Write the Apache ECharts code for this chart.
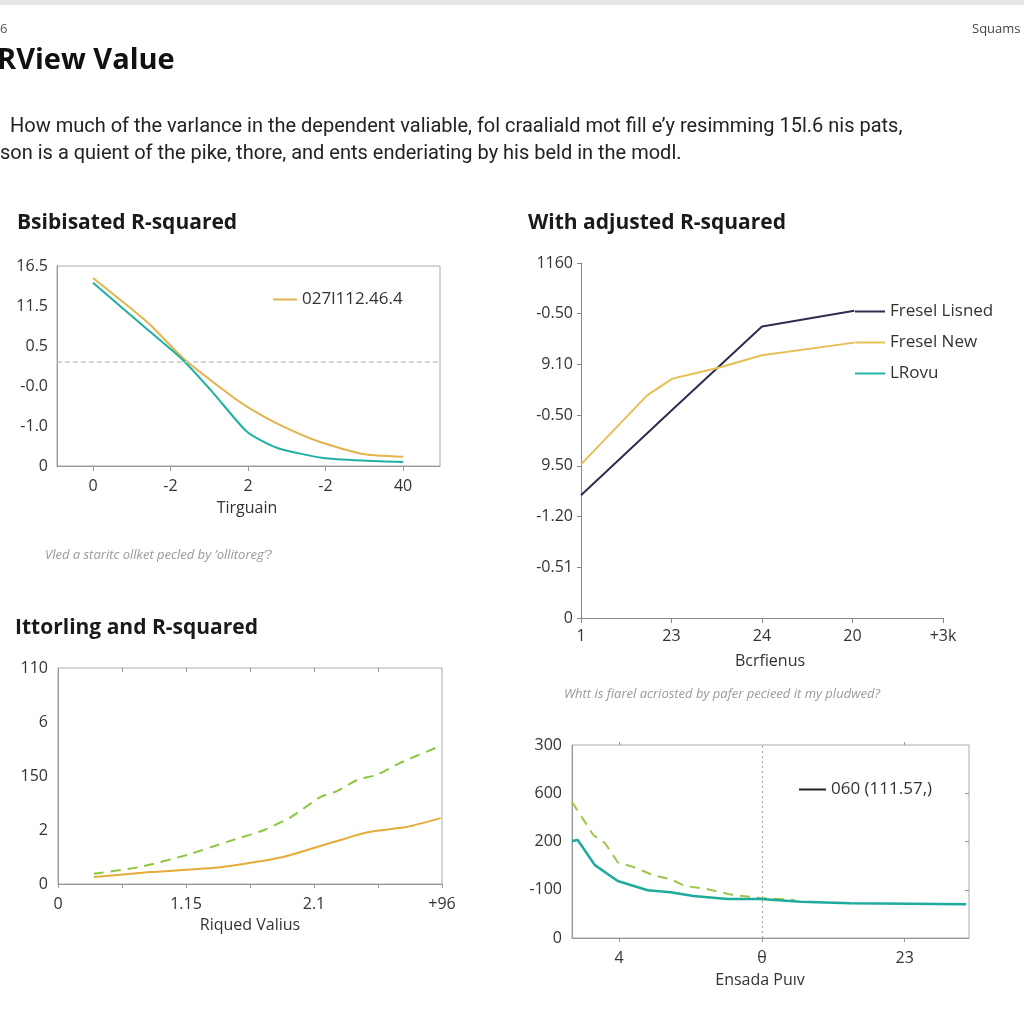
<!DOCTYPE html>
<html>
<head>
<meta charset="utf-8">
<script src="https://cdn.jsdelivr.net/npm/echarts@6/dist/echarts.min.js"></script>
<style>html,body{margin:0;padding:0;background:#fff}#c{width:1024px;height:1024px}</style>
</head>
<body>
<div id="c"></div>
<script>
// ---- Panel 1: Bsibisated R-squared ----
var p1XLabels = ['0', '-2', '2', '-2', '40'];
var p1YLabels = ['0', '-1.0', '-0.0', '0.5', '11.5', '16.5'];
var p1Gold = [[0,4.7],[0.71,3.58],[1.16,2.7],[1.73,1.83],[1.99,1.48],[2.41,1.03],[2.93,0.6],[3.48,0.3],[4.0,0.23]];
var p1Teal = [[0,4.58],[0.71,3.4],[1.16,2.65],[1.55,1.83],[1.99,0.85],[2.38,0.45],[2.97,0.2],[3.54,0.13],[4.0,0.1]];
var p1RefLine = 2.6;
// ---- Panel 2: With adjusted R-squared ----
var p2XLabels = ['1', '23', '24', '20', '+3k'];
var p2YLabels = ['0', '-0.51', '-1.20', '9.50', '-0.50', '9.10', '-0.50', '1160'];
var p2Navy = [[0,2.42],[1.0,4.09],[2.0,5.75],[3.02,6.06]];
var p2Gold = [[0,3.03],[0.73,4.39],[1.01,4.72],[1.53,4.94],[2.0,5.18],[3.02,5.43]];
// ---- Panel 3: Ittorling and R-squared ----
var p3XLabels = ['0', '1.15', '2.1', '+96'];
var p3YLabels = ['0', '2', '150', '6', '110'];
var p3Green = [[0.28,0.19],[0.65,0.32],[1.01,0.54],[1.32,0.78],[1.61,1.0],[1.82,1.24],[2.05,1.61],[2.18,1.72],[2.34,1.93],[2.49,2.02],[2.67,2.24],[2.99,2.56]];
var p3Gold = [[0.28,0.13],[0.72,0.22],[1.27,0.31],[1.76,0.5],[2.03,0.69],[2.42,0.96],[2.73,1.06],[2.99,1.22]];
// ---- Panel 4 ----
var p4XLabels = ['4', '\u03b8', '23'];
var p4YLabels = ['0', '-100', '200', '600', '300'];
var p4Green = [[-0.33,2.82],[-0.18,2.13],[-0.1,1.97],[-0.01,1.57],[0.1,1.47],[0.24,1.3],[0.36,1.22],[0.46,1.08],[0.62,1.01],[0.8,0.89],[0.99,0.83],[1.23,0.79]];
var p4Teal = [[-0.33,2.01],[-0.29,2.03],[-0.17,1.51],[-0.01,1.18],[0.2,0.99],[0.36,0.95],[0.52,0.87],[0.76,0.81],[0.99,0.81],[1.27,0.75],[1.62,0.72],[2.43,0.7]];
var p4RefX = 1;

var FONT = 'Open Sans';
var LBL = {fontFamily: FONT, fontSize: 16, color: '#333'};
function idxFmt(arr){ return function(v){ var i = Math.round(v); return arr[i] !== undefined ? arr[i] : ''; }; }
function seq(a,b,s){ var r=[]; for(var v=a; v<=b+1e-9; v+=s) r.push(+v.toFixed(4)); return r; }
var TITLE_STYLE = {fontFamily: FONT, fontSize: 21, fontWeight: 'bold', color: '#1a1a1a'};
var LEG_TEXT = {fontFamily: FONT, fontSize: 17, color: '#333'};

var chart = echarts.init(document.getElementById('c'));
var option = {
  backgroundColor: '#fff',
  animation: false,
  textStyle: {fontFamily: FONT},
  title: [
    {text: 'Bsibisated R-squared', left: 17, top: 213, padding: 0, textStyle: TITLE_STYLE},
    {text: 'With adjusted R-squared', left: 528, top: 213, padding: 0, textStyle: TITLE_STYLE},
    {text: 'Ittorling and R-squared', left: 15, top: 618, padding: 0, textStyle: TITLE_STYLE}
  ],
  grid: [
    {left: 57, top: 266, width: 383, height: 200, show: true, borderColor: '#aaa', borderWidth: 1},
    {left: 581, top: 263, width: 362, height: 355},
    {left: 58, top: 668, width: 384, height: 216, show: true, borderColor: '#aaa', borderWidth: 1},
    {left: 572, top: 745, width: 397, height: 193, show: true, borderColor: '#aaa', borderWidth: 1}
  ],
  xAxis: [
    {gridIndex: 0, type: 'value', min: -0.4645, max: 4.477,
     axisLine: {onZero: false, lineStyle: {color: '#999'}}, splitLine: {show: false},
     axisTick: {customValues: [0,1,2,3,4], length: 5, lineStyle: {color: '#999'}},
     axisLabel: Object.assign({customValues: [0,1,2,3,4], formatter: idxFmt(p1XLabels), margin: 12}, LBL)},
    {gridIndex: 1, type: 'value', min: 0, max: 4, interval: 1,
     axisLine: {onZero: false, lineStyle: {color: '#888'}}, splitLine: {show: false},
     axisTick: {length: 5, lineStyle: {color: '#888'}},
     axisLabel: Object.assign({formatter: idxFmt(p2XLabels), margin: 10, showMaxLabel: true}, LBL)},
    {gridIndex: 2, type: 'value', min: 0, max: 3,
     axisLine: {onZero: false, lineStyle: {color: '#999'}}, splitLine: {show: false},
     axisTick: {customValues: seq(0,3,0.5), length: 4, lineStyle: {color: '#999'}},
     axisLabel: Object.assign({customValues: [0,1,2,3], formatter: idxFmt(p3XLabels), margin: 12}, LBL)},
    {gridIndex: 3, type: 'value', min: -0.33, max: 2.45,
     axisLine: {onZero: false, lineStyle: {color: '#999'}}, splitLine: {show: false},
     axisTick: {customValues: [0,1,2], length: 4, lineStyle: {color: '#999'}},
     axisLabel: Object.assign({customValues: [0,1,2], formatter: idxFmt(p4XLabels), margin: 12}, LBL)},
    {gridIndex: 2, type: 'value', position: 'top', min: 0, max: 3,
     axisLine: {show: false, onZero: false}, splitLine: {show: false}, axisLabel: {show: false},
     axisTick: {inside: true, customValues: seq(0.5,2.5,0.5), length: 4, lineStyle: {color: '#999'}}},
    {gridIndex: 3, type: 'value', position: 'top', min: -0.33, max: 2.45,
     axisLine: {show: false, onZero: false}, splitLine: {show: false}, axisLabel: {show: false},
     axisTick: {customValues: [0,2], length: 3, lineStyle: {color: '#999'}}}
  ],
  yAxis: [
    {gridIndex: 0, type: 'value', min: 0, max: 5, interval: 1,
     axisLine: {show: true, onZero: false, lineStyle: {color: '#999'}}, axisTick: {show: false}, splitLine: {show: false},
     axisLabel: Object.assign({formatter: idxFmt(p1YLabels), margin: 9}, LBL)},
    {gridIndex: 1, type: 'value', min: 0, max: 7, interval: 1,
     axisLine: {show: true, onZero: false, lineStyle: {color: '#888'}}, axisTick: {show: true, length: 4, lineStyle: {color: '#888'}}, splitLine: {show: false},
     axisLabel: Object.assign({formatter: idxFmt(p2YLabels), margin: 8}, LBL)},
    {gridIndex: 2, type: 'value', min: 0, max: 4, interval: 1,
     axisLine: {show: true, onZero: false, lineStyle: {color: '#999'}}, axisTick: {show: false}, splitLine: {show: false},
     axisLabel: Object.assign({formatter: idxFmt(p3YLabels), margin: 10}, LBL)},
    {gridIndex: 3, type: 'value', min: 0, max: 4, interval: 1,
     axisLine: {show: true, onZero: false, lineStyle: {color: '#999'}}, axisTick: {show: false}, splitLine: {show: false},
     axisLabel: Object.assign({formatter: idxFmt(p4YLabels), margin: 10}, LBL)},
    {gridIndex: 3, type: 'value', position: 'right', min: 0, max: 4, interval: 1,
     axisLine: {show: false, onZero: false}, splitLine: {show: false}, axisLabel: {show: false},
     axisTick: {inside: true, customValues: [1,2,3], length: 4, lineStyle: {color: '#999'}}}
  ],
  legend: [
    {data: ['027l112.46.4'], left: 273, top: 291, padding: 0, icon: 'rect', itemWidth: 24, itemHeight: 2, itemGap: 8,
     textStyle: LEG_TEXT},
    {data: ['Fresel Lisned', 'Fresel New', 'LRovu'], orient: 'vertical', left: 855, top: 303, padding: 0, icon: 'rect',
     itemWidth: 30, itemHeight: 2, itemGap: 14, textStyle: LEG_TEXT},
    {data: ['060 (111.57,)'], left: 799, top: 781, padding: 0, icon: 'rect', itemWidth: 27, itemHeight: 2,
     textStyle: LEG_TEXT}
  ],
  series: [
    {name: '027l112.46.4', type: 'line', xAxisIndex: 0, yAxisIndex: 0, data: p1Gold, symbol: 'none', smooth: 0.2,
     lineStyle: {width: 2, color: '#e2b44c'}, itemStyle: {color: '#e2b44c'},
     markLine: {silent: true, symbol: 'none', label: {show: false}, lineStyle: {color: '#c8c8c8', type: [5, 3], width: 1.5},
                data: [{yAxis: p1RefLine}]}},
    {name: 'p1teal', type: 'line', xAxisIndex: 0, yAxisIndex: 0, data: p1Teal, symbol: 'none', smooth: 0.2,
     lineStyle: {width: 2, color: '#1fb0a2'}, itemStyle: {color: '#1fb0a2'}},
    {name: 'Fresel Lisned', type: 'line', xAxisIndex: 1, yAxisIndex: 1, data: p2Navy, symbol: 'none',
     lineStyle: {width: 2, color: '#2c2d4f'}, itemStyle: {color: '#2c2d4f'}},
    {name: 'Fresel New', type: 'line', xAxisIndex: 1, yAxisIndex: 1, data: p2Gold, symbol: 'none',
     lineStyle: {width: 2, color: '#e6bf55'}, itemStyle: {color: '#e6bf55'}},
    {name: 'LRovu', type: 'line', xAxisIndex: 1, yAxisIndex: 1, data: [], symbol: 'none',
     lineStyle: {width: 2, color: '#22b3a6'}, itemStyle: {color: '#22b3a6'}},
    {name: 'p3green', type: 'line', xAxisIndex: 2, yAxisIndex: 2, data: p3Green, symbol: 'none', smooth: 0.2,
     lineStyle: {width: 2, color: '#8cc63f', type: [10, 7]}, itemStyle: {color: '#8cc63f'}},
    {name: 'p3gold', type: 'line', xAxisIndex: 2, yAxisIndex: 2, data: p3Gold, symbol: 'none', smooth: 0.2,
     lineStyle: {width: 2, color: '#e5ac3a'}, itemStyle: {color: '#e5ac3a'}},
    {name: 'p4green', type: 'line', xAxisIndex: 3, yAxisIndex: 3, data: p4Green, symbol: 'none',
     lineStyle: {width: 2, color: '#9ec64a', type: [10, 7]}, itemStyle: {color: '#9ec64a'},
     markLine: {silent: true, symbol: 'none', label: {show: false}, lineStyle: {color: '#aaa', type: [2, 3], width: 1.2},
                data: [{xAxis: p4RefX}]}},
    {name: 'p4teal', type: 'line', xAxisIndex: 3, yAxisIndex: 3, data: p4Teal, symbol: 'none',
     lineStyle: {width: 2.5, color: '#1eaa9c'}, itemStyle: {color: '#1eaa9c'}},
    {name: '060 (111.57,)', type: 'line', xAxisIndex: 3, yAxisIndex: 3, data: [], symbol: 'none',
     lineStyle: {width: 2, color: '#222'}, itemStyle: {color: '#222'}}
  ],
  graphic: [
    {type: 'rect', shape: {x: 0, y: 0, width: 1024, height: 5}, style: {fill: '#e6e6e6'}, silent: true},
    {type: 'text', left: 0, top: 23, style: {text: '6', font: '13px "Open Sans"', fill: '#555'}},
    {type: 'text', left: 972, top: 23, style: {text: 'Squams', font: '13px "Open Sans"', fill: '#444'}},
    {type: 'text', x: -3, y: 61, style: {text: 'RView Value', font: 'bold 29px "Open Sans"', fill: '#111', textVerticalAlign: 'middle'}},
    {type: 'text', x: 5, y: 127, style: {text: ' How much of the varlance in the dependent valiable, fol craaliald mot fill e\u2019y resimming 15l.6 nis pats,', font: '20px "Roboto"', fill: '#222', textVerticalAlign: 'middle'}},
    {type: 'text', x: 0, y: 154, style: {text: 'son is a quient of the pike, thore, and ents enderiating by his beld in the modl.', font: '20px "Roboto"', fill: '#222', textVerticalAlign: 'middle'}},
    {type: 'text', x: 247, y: 508, style: {text: 'Tirguain', font: '16px "Open Sans"', fill: '#333', textAlign: 'center', textVerticalAlign: 'middle'}},
    {type: 'text', x: 770, y: 661, style: {text: 'Bcrfienus', font: '16px "Open Sans"', fill: '#333', textAlign: 'center', textVerticalAlign: 'middle'}},
    {type: 'text', x: 250, y: 925, style: {text: 'Riqued Valius', font: '16px "Open Sans"', fill: '#333', textAlign: 'center', textVerticalAlign: 'middle'}},
    {type: 'text', x: 760, y: 980, style: {text: 'Ensada Pu\u0131v', font: '16px "Open Sans"', fill: '#333', textAlign: 'center', textVerticalAlign: 'middle'}},
    {type: 'text', x: 45, y: 555, style: {text: 'Vled a staritc ollket pecled by \u2019ollitoreg\u2019?', font: 'italic 13px "Open Sans"', fill: '#999', textVerticalAlign: 'middle'}},
    {type: 'text', x: 564, y: 694, style: {text: 'Whtt is fiarel acriosted by pafer pecieed it my pludwed?', font: 'italic 13px "Open Sans"', fill: '#999', textVerticalAlign: 'middle'}}
  ]
};
chart.setOption(option);
</script>
</body>
</html>
